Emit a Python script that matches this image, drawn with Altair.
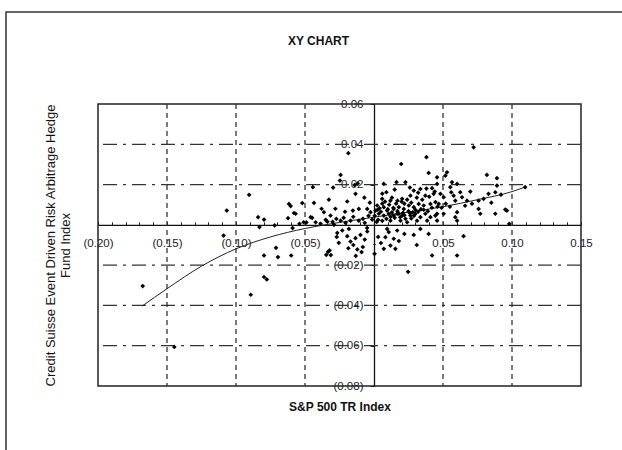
import altair as alt
import pandas as pd

# ---- scatter data (S&P 500 TR Index vs Credit Suisse Event Driven Risk Arbitrage) ----
pts_x = [
    -0.0905, -0.1067, -0.084, -0.0797, -0.083, -0.072, -0.109, -0.0616, -0.0604, -0.058,
    -0.0568, -0.052, -0.0623, -0.054, -0.051, -0.059, -0.071, -0.0696, -0.0797, -0.060,
    -0.0797, -0.0777, -0.0893, -0.1676, -0.1447,
    -0.0186, -0.0242, -0.0247, -0.0296, -0.0443, -0.0141, -0.0118, -0.0435, -0.0327, -0.0194,
    -0.0134, -0.0153, -0.011, -0.0049, -0.0025, -0.0459, -0.0363, -0.0315, -0.0273, -0.0338,
    -0.0242, -0.0206, -0.017, -0.011, -0.0067, -0.0013, -0.029, -0.0387, -0.0423, -0.049,
    -0.0448,
    -0.0266, -0.0194, -0.017, -0.0134, -0.0098, -0.0067, -0.0186, -0.0121, -0.0346, -0.0322,
    -0.0255, -0.0182, -0.023, -0.0049, -0.0081, -0.0313, -0.0132, -0.0333,
    0.0197, 0.038, 0.0396, 0.0163, 0.0228, 0.0071, 0.009, 0.0288, 0.0336, 0.0421,
    0.0059, 0.0119, 0.0204, 0.0264, 0.0372, 0.0432, 0.0023, 0.0011, 0.0071, 0.0095,
    0.0143, 0.018, 0.0216, 0.0252, 0.0288, 0.0324, 0.036, 0.0409, 0.0445,
    0.0035, 0.0071, 0.0107, 0.0143, 0.0168, 0.0204, 0.0228, 0.0264, 0.030, 0.0336,
    0.0372, 0.0409, 0.0445, 0.0119, 0.0192, 0.024, 0.0312, 0.0385, 0.0457,
    0.005, 0.013, 0.017, 0.021, 0.025, 0.028, 0.015, 0.019, 0.027, 0.009,
    0.003, 0.0025, 0.011, 0.016, 0.022, 0.030, 0.034, 0.0005, 0.006, 0.020,
    0.0095, 0.0083, 0.0143, 0.0119, 0.0155, 0.0071, 0.0288, 0.0396, 0.0421, 0.0004,
    0.0107, 0.0168, 0.0336, 0.0247,
    0.0722, 0.0529, 0.0517, 0.0457, 0.0457, 0.0565, 0.0602, 0.0553, 0.0818, 0.0891,
    0.0891, 0.0698, 0.0879, 0.083, 0.0625, 0.0638, 0.056, 0.0577, 0.0481, 0.0505,
    0.0589, 0.0674, 0.0758, 0.0794, 0.0469, 0.0457, 0.0505, 0.0758, 0.077, 0.0602,
    0.0589, 0.0602, 0.0879, 0.0951, 0.0649, 0.0602,
    0.098, 0.0963, 0.1095,
    -0.035, -0.030, -0.022, -0.015, -0.008, -0.004, 0.002, 0.006, 0.012, 0.018,
    0.022, 0.026, 0.029, 0.032, 0.036, 0.039, 0.042, 0.046, 0.049, 0.052,
    0.055, 0.014, 0.010, 0.004, 0.008, 0.013, 0.017, 0.024, 0.027, 0.031,
    0.035, 0.040, 0.044, 0.038, 0.032, 0.026, 0.015, 0.006, -0.003, -0.007,
    -0.021, -0.028, -0.038, -0.005, 0.003, 0.005, 0.018, 0.022, 0.031, -0.015,
    -0.009, -0.027, 0.066, 0.071, 0.085, 0.092,
]
pts_y = [
    0.0149, 0.0071, 0.0038, 0.0026, -0.0011, -0.0003, -0.0053, 0.0104, 0.0093, 0.0059,
    0.0055, 0.0108, 0.0033, 0.0005, 0.0013, -0.0016, -0.0114, -0.016, -0.0152, -0.0152,
    -0.0259, -0.0271, -0.0347, -0.0304, -0.0606,
    0.0356, 0.0248, 0.022, 0.0185, 0.0187, 0.0198, 0.0205, 0.0109, 0.0125, 0.0116,
    0.0154, 0.0071, 0.0079, 0.0079, 0.0063, 0.0038, 0.0063, 0.0046, 0.003, 0.0016,
    0.0021, 0.001, 0.0021, 0.0021, 0.001, 0.0026, 0.000, 0.0005, 0.0013, 0.0012,
    0.0035,
    -0.004, -0.0056, -0.0083, -0.0066, -0.005, -0.0073, -0.0116, -0.0122, -0.0149, -0.0127,
    -0.0089, -0.002, -0.0028, -0.0033, -0.011, -0.015, -0.0154, -0.0134,
    0.0302, 0.0336, 0.0258, 0.0212, 0.0212, 0.0203, 0.0162, 0.017, 0.0178, 0.0182,
    0.0129, 0.012, 0.0129, 0.0145, 0.0145, 0.0154, 0.0096, 0.0071, 0.0088, 0.0071,
    0.0079, 0.0088, 0.0079, 0.0096, 0.0088, 0.0104, 0.0096, 0.0104, 0.0113,
    0.0055, 0.0046, 0.0055, 0.0046, 0.0055, 0.0046, 0.003, 0.0046, 0.0055, 0.0038,
    0.0055, 0.0038, 0.0046, 0.0021, 0.0021, 0.0013, 0.0021, 0.0021, 0.0021,
    0.0065, 0.0062, 0.0068, 0.006, 0.0068, 0.0062, 0.0035, 0.0038, 0.0032, 0.003,
    0.0025, 0.0075, 0.010, 0.0105, 0.0105, 0.0075, 0.0078, 0.0045, 0.0105, 0.0115,
    -0.002, -0.0061, -0.0069, -0.0103, -0.0119, -0.0119, -0.005, -0.0045, -0.0152, -0.0144,
    -0.0036, -0.0028, -0.002, -0.0233,
    0.0385, 0.0261, 0.0244, 0.0236, 0.0203, 0.0212, 0.0203, 0.0187, 0.0248, 0.0232,
    0.0195, 0.0165, 0.0162, 0.0154, 0.0162, 0.0137, 0.0162, 0.0145, 0.0154, 0.0137,
    0.012, 0.012, 0.012, 0.0129, 0.0104, 0.0055, 0.0055, 0.0079, 0.0055, 0.0063,
    0.0038, 0.0021, 0.0055, 0.0076, -0.0056, -0.0152,
    0.0005, 0.0071, 0.0187,
    0.0025, 0.0015, 0.0035, 0.004, 0.003, 0.0045, 0.0015, 0.002, 0.004, 0.0055,
    0.0048, 0.0058, 0.0045, 0.0065, 0.0075, 0.0068, 0.0085, 0.009, 0.0085, 0.0105,
    0.009, 0.0085, 0.0078, 0.0082, 0.0115, 0.0135, 0.012, 0.0125, 0.011, 0.0135,
    0.0125, 0.014, 0.0165, 0.018, 0.016, 0.0185, 0.0175, 0.0155, 0.011, 0.0135,
    0.0065, 0.008, 0.008, -0.0015, -0.006, -0.009, -0.008, -0.0045, -0.010, -0.010,
    -0.0135, -0.006, 0.0095, 0.0105, 0.011, 0.015,
]

# ---- fitted trend curve ----
fit_x = [-0.168, -0.15, -0.125, -0.10, -0.075, -0.05, -0.025, 0.0, 0.025, 0.05, 0.075, 0.10, 0.11]
fit_y = [-0.0403, -0.0317, -0.0205, -0.0119, -0.006, -0.0018, 0.0012, 0.0038, 0.0063, 0.0090, 0.0125, 0.0165, 0.0189]

# ---- grid / ticks ----
grid_x = [-0.15, -0.10, -0.05, 0.05, 0.10]
grid_y = [0.04, 0.02, -0.02, -0.04, -0.06]
x_ticks = [round(-0.20 + 0.01 * i, 2) for i in range(36)]
y_ticks = [0.06, 0.04, 0.02, 0.0, -0.02, -0.04, -0.06, -0.08]

W, H = 483, 282
XD = [-0.20, 0.15]
YD = [-0.08, 0.06]
FONT = "Liberation Sans"

xs = alt.Scale(domain=XD, nice=False, zero=False)
ys = alt.Scale(domain=YD, nice=False, zero=False)

x_off = -H * (YD[1] - 0) / (YD[1] - YD[0])
y_off = -W * (0 - XD[0]) / (XD[1] - XD[0])

fmt = ("datum.value == 0 ? '-' : (datum.value < 0 ? '(' + format(-datum.value, '.2f') + ')' "
       ": format(datum.value, '.2f'))")
x_lab = "abs(round(datum.value * 100)) % 5 == 0 ? (" + fmt + ") : ''"

df_pts = pd.DataFrame({"px": pts_x, "py": pts_y})
df_fit = pd.DataFrame({"fx": fit_x, "fy": fit_y})
df_gx = pd.DataFrame({"gx": grid_x})
df_gy = pd.DataFrame({"gy": grid_y})
df_one = pd.DataFrame({"a": [0]})

frame = alt.Chart(df_one).mark_rect(fill="transparent", stroke="#333", strokeWidth=1.5).encode(
    x=alt.value(-92), x2=alt.value(W + 200), y=alt.value(-92), y2=alt.value(H + 200)
)

gridv = alt.Chart(df_gx).mark_rule(color="#333", strokeWidth=1.3, strokeDash=[5, 4]).encode(
    x=alt.X("gx:Q", scale=xs, axis=None)
)
gridh = alt.Chart(df_gy).mark_rule(color="#333", strokeWidth=1.3, strokeDash=[14, 6, 3, 6]).encode(
    y=alt.Y("gy:Q", scale=ys, axis=None)
)

fit = alt.Chart(df_fit).mark_line(color="#222", strokeWidth=1, interpolate="monotone").encode(
    x=alt.X("fx:Q", scale=xs, axis=alt.Axis(
        orient="bottom", title="S&P 500 TR Index", labels=False, ticks=False, domain=False,
        grid=False, titlePadding=15, titleFontSize=12, titleFontWeight="bold", titleFont=FONT,
        titleColor="#111", minExtent=0)),
    y=alt.Y("fy:Q", scale=ys, axis=alt.Axis(
        orient="left", title=["Credit Suisse  Event Driven  Risk  Arbitrage  Hedge", "Fund Index"],
        labels=False, ticks=False, domain=False, grid=False, titlePadding=26, titleFontSize=13,
        titleFontWeight="normal", titleFont=FONT, titleColor="#111", titleLineHeight=15,
        minExtent=0)),
)

points = alt.Chart(df_pts).mark_point(shape="diamond", filled=True, size=22, color="black", opacity=1).encode(
    x=alt.X("px:Q", scale=xs, axis=alt.Axis(
        orient="top", offset=x_off, values=x_ticks, labelExpr=x_lab, tickSize=3, tickColor="#222",
        domainColor="#111", domainWidth=1.3, labelPadding=-22, labelBaseline="middle",
        labelAlign="center", labelFlush=False, labelOverlap=False, labelBound=False, grid=False,
        labelFont=FONT, labelFontSize=11.5, labelColor="#222", title=None)),
    y=alt.Y("py:Q", scale=ys, axis=alt.Axis(
        orient="left", offset=y_off, values=y_ticks, labelExpr=fmt, tickSize=4, tickColor="#222",
        domainColor="#111", domainWidth=1.3, labelPadding=7, labelAlign="right",
        labelBaseline="middle", labelFlush=False, labelOverlap=False, labelBound=False, grid=False,
        labelFont=FONT, labelFontSize=11.5, labelColor="#222", title=None)),
)

chart = alt.layer(frame, gridv, gridh, fit, points).resolve_axis(
    x="independent", y="independent"
).properties(
    width=W, height=H,
    autosize=alt.AutoSizeParams(type="none"),
    padding={"left": 98, "top": 104, "right": 41, "bottom": 64},
    title=alt.Title("XY CHART", fontSize=12, fontWeight="bold", font=FONT, color="#111",
                    anchor="middle", frame="group", offset=-37, dx=-21),
    background="white",
).configure_view(stroke="#222", strokeWidth=1.5)

chart.save("out.html", embed_options={"renderer": "svg", "actions": False})
